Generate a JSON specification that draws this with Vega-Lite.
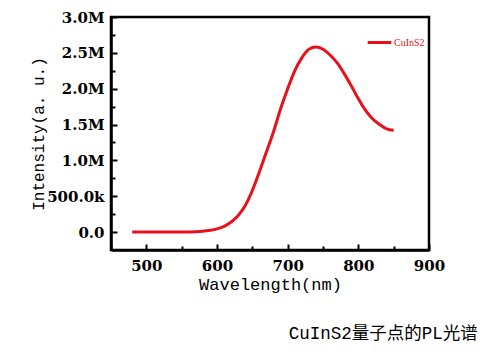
{
  "$schema": "https://vega.github.io/schema/vega-lite/v6.json",
  "autosize": "none",
  "width": 318,
  "height": 233,
  "padding": {"left": 111, "top": 17, "right": 74, "bottom": 108},
  "background": "white",
  "config": {
    "view": {"stroke": "#000", "strokeWidth": 2.5},
    "axis": {
      "domainColor": "#000", "domainWidth": 2.5,
      "tickColor": "#000", "tickWidth": 2,
      "labelFont": "DejaVu Serif", "labelFontWeight": "bold", "labelFontSize": 15, "labelColor": "#000",
      "titleFont": "Liberation Mono", "titleFontWeight": "normal", "titleFontSize": 17, "titleColor": "#000",
      "grid": false
    }
  },
  "title": {
    "text": "CuInS2量子点的PL光谱",
    "orient": "bottom", "anchor": "end", "dx": 33, "offset": 33,
    "font": "Liberation Mono, Noto Sans CJK SC", "fontSize": 17.5, "fontWeight": "normal", "color": "#000"
  },
  "data": {"values": [
    {"w": 480, "v": 0, "s": "CuInS2"},
    {"w": 490, "v": 0, "s": "CuInS2"},
    {"w": 500, "v": 0, "s": "CuInS2"},
    {"w": 510, "v": 0, "s": "CuInS2"},
    {"w": 520, "v": 0, "s": "CuInS2"},
    {"w": 530, "v": 0, "s": "CuInS2"},
    {"w": 540, "v": 0, "s": "CuInS2"},
    {"w": 550, "v": 1000, "s": "CuInS2"},
    {"w": 560, "v": 2000, "s": "CuInS2"},
    {"w": 570, "v": 5000, "s": "CuInS2"},
    {"w": 580, "v": 12000, "s": "CuInS2"},
    {"w": 590, "v": 25000, "s": "CuInS2"},
    {"w": 600, "v": 45000, "s": "CuInS2"},
    {"w": 610, "v": 80000, "s": "CuInS2"},
    {"w": 620, "v": 140000, "s": "CuInS2"},
    {"w": 630, "v": 230000, "s": "CuInS2"},
    {"w": 640, "v": 370000, "s": "CuInS2"},
    {"w": 650, "v": 580000, "s": "CuInS2"},
    {"w": 660, "v": 840000, "s": "CuInS2"},
    {"w": 670, "v": 1120000, "s": "CuInS2"},
    {"w": 680, "v": 1400000, "s": "CuInS2"},
    {"w": 690, "v": 1720000, "s": "CuInS2"},
    {"w": 700, "v": 2000000, "s": "CuInS2"},
    {"w": 710, "v": 2250000, "s": "CuInS2"},
    {"w": 720, "v": 2430000, "s": "CuInS2"},
    {"w": 730, "v": 2550000, "s": "CuInS2"},
    {"w": 740, "v": 2580000, "s": "CuInS2"},
    {"w": 750, "v": 2550000, "s": "CuInS2"},
    {"w": 760, "v": 2470000, "s": "CuInS2"},
    {"w": 770, "v": 2360000, "s": "CuInS2"},
    {"w": 780, "v": 2210000, "s": "CuInS2"},
    {"w": 790, "v": 2040000, "s": "CuInS2"},
    {"w": 800, "v": 1860000, "s": "CuInS2"},
    {"w": 810, "v": 1700000, "s": "CuInS2"},
    {"w": 820, "v": 1580000, "s": "CuInS2"},
    {"w": 830, "v": 1500000, "s": "CuInS2"},
    {"w": 840, "v": 1440000, "s": "CuInS2"},
    {"w": 850, "v": 1420000, "s": "CuInS2"}
  ]},
  "mark": {"type": "line", "strokeWidth": 3, "interpolate": "monotone"},
  "encoding": {
    "x": {
      "field": "w", "type": "quantitative",
      "scale": {"domain": [450, 900], "nice": false, "zero": false},
      "axis": {
        "title": "Wavelength(nm)",
        "values": [450, 500, 550, 600, 650, 700, 750, 800, 850, 900],
        "labelExpr": "datum.value % 100 === 0 ? datum.label : ''",
        "tickSize": {"condition": {"test": "datum.value % 100 === 0", "value": -6}, "value": -4},
        "labelPadding": 14,
        "labelFlush": false,
        "titlePadding": 3
      }
    },
    "y": {
      "field": "v", "type": "quantitative",
      "scale": {"domain": [-250000, 3000000], "nice": false, "zero": false},
      "axis": {
        "title": "Intensity(a. u.)",
        "titleFontSize": 16,
        "values": [0, 250000, 500000, 750000, 1000000, 1250000, 1500000, 1750000, 2000000, 2250000, 2500000, 2750000, 3000000],
        "labelExpr": "datum.value % 500000 !== 0 ? '' : (datum.value === 0 ? '0.0' : (datum.value >= 1000000 ? format(datum.value / 1000000, '.1f') + 'M' : format(datum.value / 1000, '.1f') + 'k'))",
        "tickSize": {"condition": {"test": "datum.value % 500000 === 0", "value": -6}, "value": -4},
        "labelPadding": 13,
        "labelFlush": false,
        "titlePadding": 0
      }
    },
    "color": {
      "field": "s", "type": "nominal",
      "scale": {"range": ["#e8101a"]},
      "legend": {
        "title": null, "orient": "none", "legendX": 255, "legendY": 12,
        "symbolType": "stroke", "symbolStrokeWidth": 3, "symbolSize": 560,
        "labelFont": "Liberation Serif", "labelFontSize": 10, "labelColor": "#e8101a", "labelOffset": 1
      }
    }
  }
}
